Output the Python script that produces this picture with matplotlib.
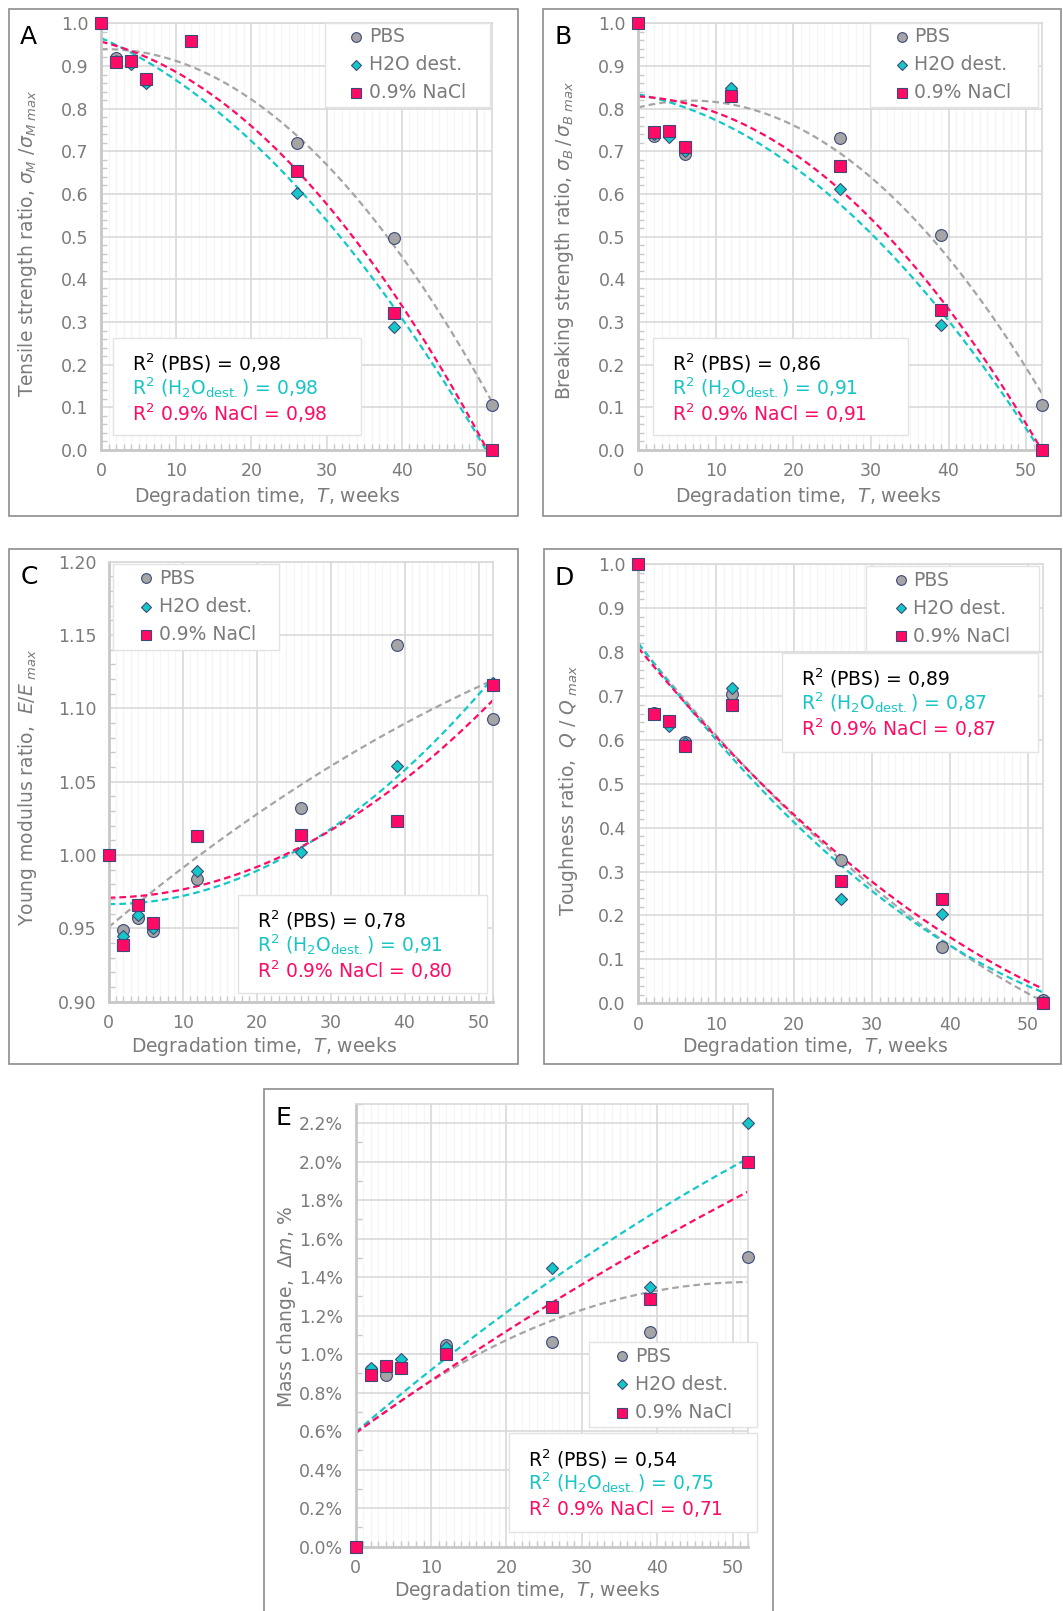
import numpy as np
import matplotlib
matplotlib.use("Agg")
import matplotlib.pyplot as plt
from matplotlib.patches import Rectangle
from matplotlib.ticker import MultipleLocator, FormatStrFormatter

plt.rcParams['font.family'] = ['DejaVu Sans']
plt.rcParams['mathtext.fontset'] = 'dejavusans'

W, H = 1063, 1611

# degradation time points, weeks
weeks = np.array([0, 2, 4, 6, 12, 26, 39, 52])

# A - tensile strength ratio
tens_pbs = [1.0, 0.918, 0.910, 0.865, 0.958, 0.719, 0.496, 0.105]
tens_h2o = [1.0, 0.912, 0.905, 0.860, 0.958, 0.603, 0.288, 0.0]
tens_nacl = [1.0, 0.909, 0.911, 0.870, 0.959, 0.655, 0.322, 0.0]
tens_r2 = ['0,98', '0,98', '0,98']

# B - breaking strength ratio
brk_pbs = [1.0, 0.737, 0.745, 0.694, 0.840, 0.731, 0.505, 0.106]
brk_h2o = [1.0, 0.740, 0.734, 0.700, 0.848, 0.612, 0.293, 0.0]
brk_nacl = [1.0, 0.746, 0.748, 0.711, 0.830, 0.666, 0.328, 0.0]
brk_r2 = ['0,86', '0,91', '0,91']

# C - Young modulus ratio
mod_pbs = [1.0, 0.949, 0.957, 0.948, 0.984, 1.032, 1.143, 1.093]
mod_h2o = [1.0, 0.945, 0.959, 0.950, 0.989, 1.002, 1.061, 1.117]
mod_nacl = [1.0, 0.939, 0.966, 0.954, 1.013, 1.014, 1.023, 1.116]
mod_r2 = ['0,78', '0,91', '0,80']

# D - toughness ratio
tgh_pbs = [1.0, 0.662, 0.640, 0.596, 0.704, 0.327, 0.128, 0.008]
tgh_h2o = [1.0, 0.662, 0.632, 0.592, 0.718, 0.238, 0.204, 0.003]
tgh_nacl = [1.0, 0.660, 0.642, 0.587, 0.680, 0.279, 0.238, 0.0]
tgh_r2 = ['0,89', '0,87', '0,87']

# E - mass change, %
mass_pbs = [0.0, 0.918, 0.892, 0.930, 1.048, 1.065, 1.117, 1.507]
mass_h2o = [0.0, 0.927, 0.940, 0.974, 1.039, 1.450, 1.348, 2.203]
mass_nacl = [0.0, 0.892, 0.941, 0.930, 1.000, 1.244, 1.285, 2.000]
mass_r2 = ['0,54', '0,75', '0,71']

labels = ['PBS', 'H2O dest.', '0.9% NaCl']
GRAY, CYAN, PINK = '#a5a5a5', '#14c8c8', '#ff0a64'
EDGE = '#3c4a7a'
TXT = '#7b7b7b'
R2_COLORS = ['black', '#17c5c5', '#ff0a64']
MARKERS = [('o', 8.5), ('D', 6.5), ('s', 8.5)]


def px(x, y):
    return x / W, 1 - y / H


def add_axes(l, t, r, b):
    return fig.add_axes([l / W, 1 - b / H, (r - l) / W, (b - t) / H])


def box(ax, l, t, r, b):
    ax.add_patch(Rectangle(px(l, b), (r - l) / W, (b - t) / H, transform=fig.transFigure,
                           fc='white', ec='#e3e3e3', lw=1, zorder=4, clip_on=False))


def panel(ax, series, r2, ylim, ymaj, ymin, leg_box, leg_pos, r2_box, r2_pos, yfmt='%.1f'):
    ax.set_xlim(0, 52)
    ax.set_ylim(*ylim)
    ax.xaxis.set_major_locator(MultipleLocator(10))
    ax.xaxis.set_minor_locator(MultipleLocator(1))
    ax.yaxis.set_major_locator(MultipleLocator(ymaj))
    ax.yaxis.set_minor_locator(MultipleLocator(ymin))
    ax.yaxis.set_major_formatter(FormatStrFormatter(yfmt))
    ax.grid(which='major', color='#d9d9d9', lw=1.2, zorder=0)
    ax.grid(which='minor', axis='x', color='#f5f5f5', lw=0.8, zorder=0)
    ax.set_axisbelow(True)
    for s in ['top', 'right']:
        ax.spines[s].set_color('#d9d9d9')
        ax.spines[s].set_linewidth(1.2)
    for s in ['left', 'bottom']:
        ax.spines[s].set_color('#c8c8c8')
        ax.spines[s].set_linewidth(2)
    ax.tick_params(which='major', length=0, labelsize=12.5, labelcolor=TXT, pad=9)
    ax.tick_params(which='minor', direction='in', length=4, color='#c8c8c8', width=1)

    # second-order trendlines
    tt = np.linspace(0, 52, 200)
    for y, c in zip(series, [GRAY, CYAN, PINK]):
        k = np.polyfit(weeks, y, 2)
        ax.plot(tt, np.polyval(k, tt), ls=(0, (3, 1.8)), color=c, lw=1.6, zorder=2)

    for y, (m, ms), c, lab in zip(series, MARKERS, [GRAY, CYAN, PINK], labels):
        ax.plot(weeks, y, ls='none', marker=m, ms=ms, mfc=c, mec=EDGE, mew=0.8,
                clip_on=False, zorder=3, label=lab)

    # legend
    box(ax, *leg_box)
    mx, tx, rows = leg_pos
    for (m, ms), c, lab, yy in zip(MARKERS, [GRAY, CYAN, PINK], labels, rows):
        ax.plot([mx / W], [1 - yy / H], transform=fig.transFigure, ls='none', marker=m,
                ms=ms - 1.5, mfc=c, mec=EDGE, mew=0.8, clip_on=False, zorder=5)
        ax.text(*px(tx + 3, yy), lab, transform=fig.transFigure, fontsize=13.5, color=TXT,
                ha='left', va='center', zorder=5)

    # R^2 box
    box(ax, *r2_box)
    tx, rows = r2_pos
    texts = [r'R$^2$ (PBS) = ' + r2[0],
             r'R$^2$ (H$_2$O$_{\mathregular{dest.}}$) = ' + r2[1],
             r'R$^2$ 0.9% NaCl = ' + r2[2]]
    for s, yy, c in zip(texts, rows, R2_COLORS):
        ax.text(*px(tx, yy), s, transform=fig.transFigure, fontsize=13.5, color=c,
                ha='left', va='center', zorder=6)


fig = plt.figure(figsize=(W / 100, H / 100), dpi=100)

# panel frames
for l, t, r, b in [(9, 9, 518, 516), (543, 9, 1061, 516), (9, 549, 518, 1064),
                   (544, 549, 1061, 1064), (264, 1089, 773, 1640)]:
    fig.patches.append(Rectangle(px(l, b), (r - l) / W, (b - t) / H, transform=fig.transFigure,
                                 fill=False, ec='#8c8c8c', lw=1.2))

axA = add_axes(101, 23.3, 492, 450)
panel(axA, [tens_pbs, tens_h2o, tens_nacl], tens_r2, (0, 1.0), 0.1, 0.02,
      (325, 23, 490, 107), (356, 366, [37, 65, 93]),
      (113, 338, 361, 435), (132, [363, 388, 413]))

axB = add_axes(638.3, 23.3, 1041.7, 450)
panel(axB, [brk_pbs, brk_h2o, brk_nacl], brk_r2, (0, 1.0), 0.1, 0.02,
      (870, 23, 1038, 107), (902, 911, [37, 65, 93]),
      (653, 338, 908, 435), (672, [363, 388, 413]))

axC = add_axes(108.7, 561.7, 493.3, 1001.7)
panel(axC, [mod_pbs, mod_h2o, mod_nacl], mod_r2, (0.9, 1.2), 0.05, 0.01,
      (113, 564, 279, 650), (146, 156, [578, 607, 635]),
      (238, 895, 487, 993), (257, [920, 945, 970]), yfmt='%.2f')

axD = add_axes(638.3, 564.3, 1043.3, 1003.3)
panel(axD, [tgh_pbs, tgh_h2o, tgh_nacl], tgh_r2, (0, 1.0), 0.1, 0.02,
      (866, 566, 1039, 651), (901, 910, [580, 608, 636]),
      (782, 653, 1038, 752), (801, [678, 703, 728]))

axE = add_axes(355.7, 1104, 747.7, 1546.7)
panel(axE, [mass_pbs, mass_h2o, mass_nacl], mass_r2, (0, 2.3), 0.2, 0.1,
      (589, 1342, 757, 1427), (622, 632, [1356, 1384, 1413]),
      (509, 1433, 757, 1532), (528, [1459, 1483, 1508]), yfmt='%.1f%%')

# panel letters
for s, x, y in [('A', 28, 37), ('B', 563, 37), ('C', 29, 577), ('D', 564, 578), ('E', 283, 1118)]:
    fig.text(*px(x, y), s, fontsize=18, ha='center', va='center', color='black')

xlab = r'Degradation time,  $T$, weeks'
for x, y in [(267, 497), (808, 497), (264, 1047), (815, 1047), (527, 1590)]:
    fig.text(*px(x, y), xlab, fontsize=13.5, color=TXT, ha='center', va='center')

ylabs = [(r'Tensile strength ratio, $\sigma_M\ /\sigma_{M\ max}$', 28, 243),
         (r'Breaking strength ratio, $\sigma_B\,/\,\sigma_{B\ max}$', 565, 240),
         (r'Young modulus ratio,  $E/E_{\ max}$', 28, 787),
         (r'Toughness ratio,  $Q\ /\ Q_{\ max}$', 568, 790),
         (r'Mass change,  $\mathit{\Delta m}$, %', 286, 1307)]
for s, x, y in ylabs:
    fig.text(*px(x, y), s, fontsize=13.5, color=TXT, ha='center', va='center', rotation=90)

fig.savefig('out.png', dpi=100, facecolor='white')
